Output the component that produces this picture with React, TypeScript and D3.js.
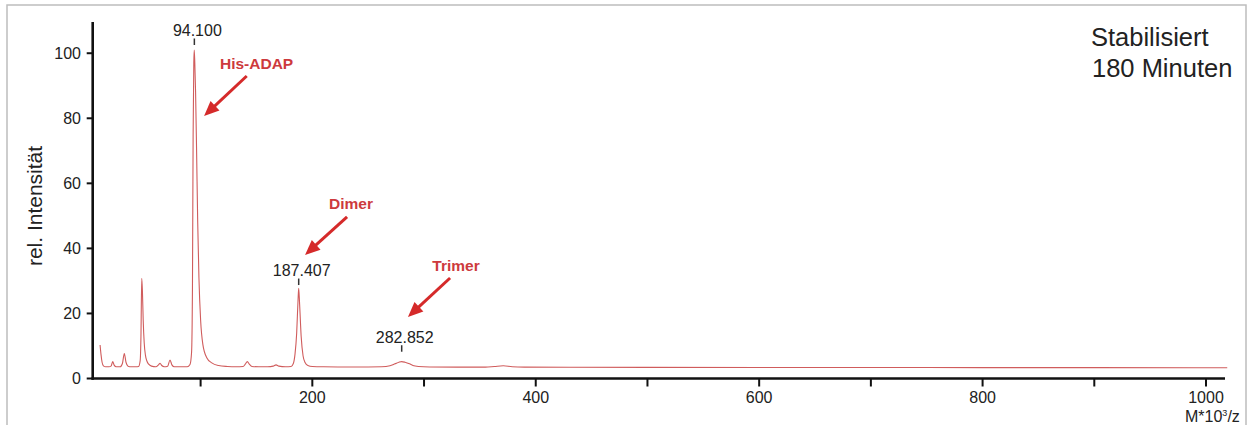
import React from 'react';
import * as d3 from 'd3';

// Spectrum (M*10^3/z vs relative intensity)
const massValues = [
  10, 10.8, 11.8, 13, 15, 18, 20, 21.3, 22.6, 24.5, 28, 30, 31.7, 33.2, 35, 38, 42, 44.5,
  45.9, 46.6, 47.3, 47.9, 48.6, 49.5, 50.6, 52, 53.5, 56, 60, 62.3, 63.7, 65.2, 67.5, 70.5,
  72.6, 74.3, 76.5, 82, 88, 90.5, 91.9, 92.7, 93.3, 93.9, 94.3, 94.8, 95.5, 96.4, 97.4,
  98.5, 100, 102, 105.5, 110, 116, 124, 132, 138, 140, 141.8, 143.6, 146, 152, 160, 165,
  167.5, 170, 176, 181, 183, 184.5, 186, 187.2, 187.8, 188.6, 190, 191.7, 193.5, 196, 200,
  210, 230, 250, 262, 269.5, 274, 277.5, 280, 283, 287, 290, 295, 305, 330, 355, 363, 371,
  379, 390, 430, 500, 600, 700, 800, 900, 1019
];
const intensityValues = [
  10.3, 7.5, 5.0, 3.9, 3.6, 3.6, 3.9, 5.2, 4.1, 3.6, 3.6, 4.6, 7.7, 5.0, 3.8, 3.6, 3.6, 3.7,
  5.5, 13, 30.8, 27, 18, 11, 7.2, 5.3, 4.4, 3.8, 3.6, 4.2, 4.7, 4.0, 3.6, 3.8,
  5.7, 4.2, 3.6, 3.6, 3.6, 4.3, 8, 28, 75, 97, 101, 97, 88, 70, 48,
  31, 18, 10.5, 6.4, 4.8, 4.0, 3.7, 3.6, 3.7, 4.4, 5.2, 4.4, 3.7, 3.6, 3.6, 3.8,
  4.2, 3.8, 3.6, 3.7, 4.6, 7.5, 14, 24, 27.7, 23, 13, 7, 4.9, 4.0, 3.7,
  3.6, 3.55, 3.55, 3.6, 3.9, 4.5, 5.0, 5.2, 5.0, 4.5, 4.0, 3.7, 3.55, 3.5, 3.5, 3.7, 3.9,
  3.6, 3.5, 3.45, 3.42, 3.4, 3.38, 3.35, 3.33, 3.3
];

const xTickValues = [100, 200, 300, 400, 500, 600, 700, 800, 900, 1000];
const xTickLabelValues = [200, 400, 600, 800, 1000];
const yTickValues = [0, 20, 40, 60, 80, 100];

const peakTickMass = [94.4, 187.8, 280.0];
const peakLabelTexts = ['94.100', '187.407', '282.852'];
const peakLabelLevel = [105.3, 31.5, 11.0];

const annotationNames = ['His-ADAP', 'Dimer', 'Trimer'];
const annotationTextMass = [150.1, 234.6, 328.6];
const annotationTextLevel = [95.2, 52.0, 33.2];
const arrowTailMass = [141.3, 231.1, 323.3];
const arrowTailLevel = [93.0, 49.7, 30.9];
const arrowTipMass = [103.1, 193.5, 285.6];
const arrowTipLevel = [80.7, 38.0, 18.9];

const W = 1253;
const H = 425;
const FONT = "'Liberation Sans', Arial, Helvetica, sans-serif";
const RED_TEXT = '#cd3a3d';
const RED_ARROW = '#d52a2a';

export default function App() {
  const x = d3.scaleLinear().domain([3.4, 1017]).range([92.7, 1225]);
  const y = d3.scaleLinear().domain([0, 109.6]).range([378.5, 22]);

  const pts: [number, number][] = massValues.map((m, i) => [m, intensityValues[i]]);
  const line = d3
    .line<[number, number]>()
    .x((d) => x(d[0]))
    .y((d) => y(d[1]))
    .curve(d3.curveMonotoneX);

  const arrows = annotationNames.map((name, i) => {
    const x1 = x(arrowTailMass[i]);
    const y1 = y(arrowTailLevel[i]);
    const x2 = x(arrowTipMass[i]);
    const y2 = y(arrowTipLevel[i]);
    const dx = x2 - x1;
    const dy = y2 - y1;
    const len = Math.sqrt(dx * dx + dy * dy);
    const ux = dx / len;
    const uy = dy / len;
    const headLen = 15;
    const headHalf = 6.5;
    const bx = x2 - ux * headLen;
    const by = y2 - uy * headLen;
    const px = -uy;
    const py = ux;
    const head = `M${x2},${y2}L${bx + px * headHalf},${by + py * headHalf}L${bx - px * headHalf},${by - py * headHalf}Z`;
    return { name, x1, y1, bx: x2 - ux * (headLen - 2), by: y2 - uy * (headLen - 2), head, i };
  });

  return (
    <svg
      width={W}
      height={H}
      style={{ position: 'absolute', left: 0, top: 0, background: '#fff' }}
      fontFamily={FONT}
    >
      <rect x={0} y={0} width={W} height={H} fill="#fff" />
      <rect x={7} y={5} width={1239} height={440} fill="none" stroke="#bdbdbd" strokeWidth={1.5} />

      {/* spectrum */}
      <path d={line(pts) || ''} fill="none" stroke="#d05c5c" strokeWidth={1.1} strokeLinejoin="round" />

      {/* y axis */}
      <line x1={x(3.4)} x2={x(3.4)} y1={y(109.6)} y2={y(0) + 1.2} stroke="#111" strokeWidth={2.6} />
      {yTickValues.map((v) => (
        <g key={'yt' + v}>
          <line x1={x(3.4) - 6} x2={x(3.4)} y1={y(v)} y2={y(v)} stroke="#111" strokeWidth={2} />
          <text x={81} y={y(v)} dy="0.36em" textAnchor="end" fontSize={16} fill="#222">
            {v}
          </text>
        </g>
      ))}

      {/* x axis */}
      <line x1={x(3.4) - 1.2} x2={x(1017)} y1={y(0)} y2={y(0)} stroke="#111" strokeWidth={2.6} />
      {xTickValues.map((v) => (
        <line key={'xt' + v} x1={x(v)} x2={x(v)} y1={y(0)} y2={y(0) + 8} stroke="#111" strokeWidth={2} />
      ))}
      {xTickLabelValues.map((v) => (
        <text key={'xl' + v} x={x(v)} y={403} textAnchor="middle" fontSize={16} fill="#222">
          {v}
        </text>
      ))}
      <text x={1185} y={422} fontSize={16} fill="#222">
        M*10
        <tspan dy={-6} fontSize={9}>3</tspan>
        <tspan dy={6}>/z</tspan>
      </text>

      {/* y title */}
      <text
        transform={`translate(42, 206) rotate(-90)`}
        textAnchor="middle"
        fontSize={21}
        fill="#222"
      >
        rel. Intensität
      </text>

      {/* peak labels */}
      {peakLabelTexts.map((t, i) => (
        <g key={'pl' + i}>
          <text
            x={x(peakTickMass[i]) + 3}
            y={y(peakLabelLevel[i])}
            textAnchor="middle"
            fontSize={16}
            fill="#222"
          >
            {t}
          </text>
          <line
            x1={x(peakTickMass[i])}
            x2={x(peakTickMass[i])}
            y1={y(peakLabelLevel[i]) + 2.5}
            y2={y(peakLabelLevel[i]) + 9}
            stroke="#333"
            strokeWidth={1.5}
          />
        </g>
      ))}

      {/* annotations */}
      {arrows.map((a) => (
        <g key={'an' + a.i}>
          <text
            x={x(annotationTextMass[a.i])}
            y={y(annotationTextLevel[a.i])}
            textAnchor="middle"
            fontSize={15.5}
            fontWeight="bold"
            fill={RED_TEXT}
          >
            {a.name}
          </text>
          <line x1={a.x1} y1={a.y1} x2={a.bx} y2={a.by} stroke={RED_ARROW} strokeWidth={3} />
          <path d={a.head} fill={RED_ARROW} />
        </g>
      ))}

      {/* condition label */}
      <text x={1091} y={46} fontSize={25.5} fill="#222">
        Stabilisiert
      </text>
      <text x={1092} y={77} fontSize={25.5} fill="#222">
        180 Minuten
      </text>
    </svg>
  );
}
